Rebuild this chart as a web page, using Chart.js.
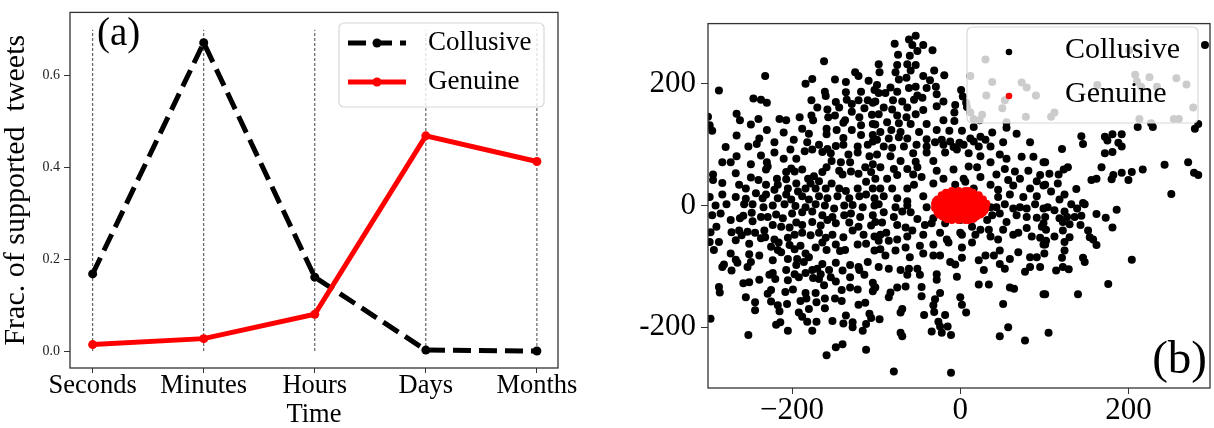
<!DOCTYPE html>
<html>
<head>
<meta charset="utf-8">
<script src="https://cdn.jsdelivr.net/npm/chart.js@4"></script>
<style>
    html, body { margin: 0; padding: 0; background: #fff; }
    body { width: 1214px; height: 428px; position: relative; overflow: hidden; }
    #chartA { position: absolute; left: 0; top: 0; width: 600px; height: 428px; }
    #chartB { position: absolute; left: 600px; top: 0; width: 614px; height: 428px; }
</style>
</head>
<body>
<canvas id="chartA" width="600" height="428"></canvas>
<canvas id="chartB" width="614" height="428"></canvas>
<script>
// Панель (a): доля поддержанных твитов по времени
const timeLabels = ['Seconds', 'Minutes', 'Hours', 'Days', 'Months'];
const collusiveFrac = [0.168, 0.672, 0.161, 0.002, 0.0];
const genuineFrac = [0.014, 0.027, 0.080, 0.469, 0.413];
const fracTicks = [0, 0.2, 0.4, 0.6];
const guideTop = 0.7;

// Панель (b): проекция пользователей (x, y)
const tsneTicks = [-200, 0, 200];
const collusivePts = [
    [-162,237],[-232,213],[-125,219],[-121,213],[-184,200],[-176,208],[-149,207],[-136,203],[-109,205],[-287,189],
    [-161,187],[-160,180],[-246,176],[-237,174],[-230,169],[-177,173],[-136,186],[-118,187],[-102,190],[-148,170],
    [-135,174],[-129,167],[-121,173],[-110,173],[-104,169],[-300,146],[-298,132],[-295,123],[-266,151],[-262,140],
    [-249,133],[-240,142],[-215,142],[-207,140],[-191,145],[-177,148],[-175,140],[-170,161],[-158,158],[-157,145],
    [-149,148],[-144,161],[-129,154],[-114,160],[-105,149],[-139,136],[-137,140],[-120,145],[-118,132],[-104,134],
    [-266,115],[-230,124],[-210,120],[-188,126],[-180,118],[-159,126],[-159,117],[-147,124],[-129,124],[-118,116],
    [-104,116],[-279,96],[-252,97],[-242,101],[-239,110],[-221,104],[-198,108],[-182,104],[-168,100],[-158,93],
    [-148,98],[-139,100],[-139,111],[-122,97],[-110,100],[-104,105],[-283,71],[-273,71],[-266,81],[-249,68],
    [-237,82],[-230,71],[-221,87],[-210,77],[-202,92],[-195,77],[-185,89],[-176,92],[-164,88],[-154,86],
    [-153,73],[-142,71],[-133,84],[-131,71],[-122,87],[-108,81],[-104,68],[-294,51],[-294,42],[-283,37],
    [-267,53],[-249,46],[-240,42],[-231,59],[-229,64],[-218,44],[-207,55],[-201,61],[-197,56],[-188,59],
    [-181,44],[-174,48],[-164,55],[-159,63],[-144,57],[-140,51],[-130,56],[-121,52],[-113,63],[-106,55],
    [-263,34],[-255,28],[-243,20],[-231,34],[-231,18],[-221,26],[-217,34],[-207,43],[-205,28],[-195,36],
    [-193,23],[-184,28],[-178,36],[-172,28],[-168,40],[-160,28],[-153,36],[-144,28],[-136,24],[-122,28],
    [-112,39],[-104,28],[-298,14],[-283,18],[-267,14],[-255,11],[-235,12],[-217,12],[-207,18],[-201,10],
    [-188,15],[-180,10],[-168,15],[-158,12],[-146,15],[-132,12],[-120,15],[-112,18],[-102,12],
    [-53,279],[-61,273],[-78,266],[-57,264],[-44,264],[-51,254],[-33,255],[-74,248],[-60,246],[-97,232],
    [-75,231],[-63,232],[-53,231],[-59,222],[-31,222],[-96,219],[-77,219],[-44,213],[-19,214],[-73,207],
    [-64,210],[-36,206],[-99,198],[-83,194],[-61,193],[-53,195],[-40,193],[-29,195],[1,190],[-97,185],
    [-89,185],[-75,187],[-51,181],[-45,177],[-28,183],[3,179],[-101,171],[-80,173],[-69,171],[-55,174],
    [-20,171],[-6,165],[7,169],[-91,161],[-81,158],[-63,161],[-44,157],[-28,163],[-97,150],[-75,148],
    [-64,145],[-53,150],[-7,153],[-101,133],[-87,137],[-73,135],[-59,134],[-40,134],[-20,140],[-7,139],
    [-95,121],[-82,124],[-71,121],[-49,121],[-28,124],[-13,123],[2,123],[-99,108],[-85,110],[-73,112],
    [-63,110],[-40,109],[-22,108],[-12,105],[-1,103],[12,110],[24,113],[38,120],[30,108],[67,118],
    [-91,97],[-81,95],[-67,97],[-52,100],[-40,97],[-30,104],[-20,100],[-8,96],[4,100],[16,105],
    [22,97],[36,97],[51,104],[83,104],[-99,84],[-83,81],[-71,73],[-56,86],[-53,72],[-40,87],
    [-32,73],[-18,87],[-4,92],[10,86],[24,81],[47,84],[55,77],[73,80],[87,80],[99,71],
    [-95,63],[-79,60],[-63,60],[-51,63],[-28,57],[-8,59],[10,64],[20,63],[36,71],[53,60],
    [65,56],[81,57],[95,50],[-101,44],[-87,44],[-75,50],[-56,51],[-46,47],[-20,44],[4,44],
    [24,47],[43,51],[57,42],[71,44],[91,40],[-95,28],[-81,28],[-63,28],[-55,34],[-32,36],
    [-6,34],[6,39],[16,28],[36,34],[45,26],[63,33],[83,28],[99,33],[-91,15],[-75,12],
    [-63,7],[-44,15],[45,14],[59,18],[75,14],[91,15],
    [30,240],[12,213],[38,203],[73,202],[79,194],[31,181],[53,173],[90,181],[50,160],[8,162],
    [12,153],[26,149],[16,142],[23,140],[55,137],[78,146],[55,128],[16,129],
    [291,264],[283,134],[144,114],[146,101],[172,113],[181,117],[192,117],[175,107],[188,103],[192,97],
    [172,86],[181,88],[121,93],[101,71],[123,59],[128,63],[117,51],[106,52],[101,34],[116,36],
    [138,27],[108,23],[124,18],[118,10],[146,4],[162,44],[168,63],[156,42],[180,43],[182,50],
    [192,54],[200,42],[204,55],[217,59],[243,67],[271,71],[278,54],[283,50],[251,19],
    [201,255],[163,198],[208,215],[210,204],[215,195],[225,211],[234,195],[257,209],[269,199],[277,161],
    [112,153],[108,146],[213,142],[227,135],[211,129],[229,129],[254,142],[260,142],[279,126],
    [-291,0],[-278,2],[-257,2],[-247,2],[-234,-3],[-223,0],[-209,2],[-196,-1],[-184,-3],[-172,2],
    [-161,0],[-150,-5],[-138,0],[-128,1],[-116,-3],[-102,0],
    [-295,-16],[-285,-13],[-273,-24],[-262,-21],[-258,-17],[-248,-12],[-247,-26],[-237,-19],[-229,-19],[-219,-15],
    [-211,-21],[-200,-13],[-188,-11],[-176,-10],[-164,-16],[-152,-19],[-138,-16],[-130,-13],[-119,-19],[-104,-16],
    [-297,-44],[-290,-35],[-272,-44],[-263,-41],[-260,-49],[-253,-43],[-244,-45],[-233,-41],[-223,-32],[-213,-35],
    [-203,-36],[-195,-28],[-188,-32],[-176,-27],[-166,-33],[-158,-24],[-148,-29],[-132,-28],[-121,-35],[-106,-33],
    [-298,-60],[-287,-60],[-293,-73],[-267,-57],[-251,-63],[-237,-54],[-232,-52],[-221,-56],[-216,-61],[-205,-53],
    [-197,-48],[-188,-45],[-178,-49],[-168,-45],[-160,-53],[-152,-48],[-139,-52],[-128,-41],[-115,-48],[-102,-51],
    [-273,-79],[-251,-80],[-239,-82],[-225,-68],[-217,-73],[-203,-65],[-197,-72],[-190,-66],[-184,-79],[-172,-69],
    [-164,-61],[-159,-73],[-148,-64],[-143,-75],[-137,-73],[-122,-64],[-112,-63],[-102,-74],
    [-283,-101],[-281,-97],[-272,-107],[-267,-89],[-265,-94],[-253,-101],[-249,-93],[-223,-90],[-213,-77],[-207,-106],
    [-205,-88],[-195,-98],[-194,-88],[-186,-93],[-180,-85],[-176,-106],[-170,-104],[-164,-96],[-156,-106],[-148,-94],
    [-140,-107],[-131,-98],[-121,-101],[-110,-93],
    [-258,-128],[-251,-126],[-239,-122],[-227,-114],[-223,-111],[-220,-121],[-205,-123],[-197,-113],[-192,-118],[-184,-111],
    [-175,-119],[-168,-121],[-166,-113],[-162,-131],[-154,-118],[-148,-125],[-131,-118],[-120,-106],[-114,-114],[-104,-127],
    [-287,-134],[-286,-143],[-255,-151],[-244,-159],[-244,-172],[-229,-145],[-225,-139],[-225,-158],[-217,-164],[-215,-174],
    [-208,-142],[-206,-162],[-199,-138],[-190,-157],[-184,-144],[-183,-153],[-180,-170],[-172,-144],[-171,-159],[-161,-153],
    [-161,-169],[-149,-153],[-141,-157],[-141,-139],[-131,-135],[-122,-138],[-121,-163],[-113,-160],[-102,-134],[-104,-141],
    [-297,-186],[-219,-196],[-214,-192],[-205,-206],[-192,-176],[-188,-183],[-182,-191],[-171,-191],[-176,-206],[-152,-190],
    [-139,-194],[-136,-181],[-128,-192],[-128,-200],[-112,-195],[-108,-178],[-106,-185],[-116,-206],
    [-252,-213],[-159,-246],[-148,-233],[-140,-228],[-112,-237],
    [-97,2],[-77,-3],[-63,0],[-40,-3],[36,-3],[43,-3],[53,2],[63,-5],[71,-3],[79,-5],
    [89,2],[99,-5],[-91,-11],[-69,-10],[-59,-11],[-101,-27],[-93,-28],[-79,-19],[-75,-32],[-65,-36],
    [-51,-22],[-42,-32],[-32,-21],[-34,-29],[-18,-29],[0,-24],[14,-35],[16,-21],[32,-24],[38,-16],
    [47,-13],[55,-27],[67,-16],[79,-19],[91,-20],[97,-35],[-97,-58],[-95,-48],[-88,-45],[-85,-58],
    [-75,-56],[-63,-51],[-57,-41],[-44,-48],[-32,-64],[-24,-45],[-16,-56],[-14,-61],[0,-45],[2,-48],
    [2,-69],[14,-61],[18,-48],[24,-40],[34,-40],[36,-51],[45,-56],[51,-40],[63,-48],[69,-45],
    [79,-37],[85,-51],[95,-53],[99,-64],[-95,-72],[-89,-82],[-77,-74],[-65,-69],[-60,-85],[-48,-66],
    [-44,-79],[-32,-82],[-24,-82],[-12,-93],[-6,-97],[2,-86],[22,-90],[30,-82],[40,-82],[47,-74],
    [59,-88],[69,-77],[83,-85],[91,-85],[47,-96],[53,-104],[83,-101],[95,-101],[77,-109],[-97,-101],
    [-85,-104],[-71,-106],[-63,-114],[-61,-104],[-51,-104],[-48,-114],[-28,-113],[-28,-122],[-4,-117],[28,-106],
    [22,-130],[34,-130],[59,-135],[64,-137],[-101,-135],[-83,-143],[-85,-151],[-75,-135],[-65,-133],[-46,-134],
    [-46,-149],[-24,-144],[-30,-154],[-32,-164],[0,-151],[2,-163],[7,-176],[51,-162],[99,-146],[-69,-170],
    [-71,-176],[-96,-187],[-43,-180],[-18,-180],[-31,-175],[-26,-191],[-24,-199],[-15,-199],[-34,-207],[-22,-209],
    [-11,-213],[-71,-209],[-69,-215],[57,-200],[47,-215],[77,-222],[-79,-273],[-11,-275],
    [104,-3],[112,-8],[124,-10],[132,2],[139,-5],[148,2],[101,-19],[118,-21],[122,-27],[127,-19],
    [136,-19],[144,-17],[143,-32],[130,-31],[162,-14],[173,-20],[186,-7],[181,-36],[99,-29],[102,-40],
    [112,-51],[122,-41],[124,-60],[130,-52],[152,-41],[154,-52],[158,-56],[162,-65],[101,-64],[102,-58],
    [100,-79],[124,-74],[121,-86],[146,-86],[148,-93],[114,-107],[122,-101],[129,-105],[204,-89],[176,-129],
    [101,-146],[140,-146],[105,-209]
];
const genuinePts = [
    [-10,24],[-2,24],[6,24],[10,24],
    [-22,17],[-14,17],[-6,17],[2,17],[10,17],[18,17],[22,17],
    [-27,10],[-19,10],[-11,10],[-3,10],[5,10],[13,10],[21,10],[27,10],
    [-30,3],[-22,3],[-14,3],[-6,3],[2,3],[10,3],[18,3],[26,3],[31,3],
    [-30,-4],[-22,-4],[-14,-4],[-6,-4],[2,-4],[10,-4],[18,-4],[26,-4],[30,-4],
    [-27,-11],[-19,-11],[-11,-11],[-3,-11],[5,-11],[13,-11],[21,-11],[27,-11],
    [-21,-18],[-13,-18],[-5,-18],[3,-18],[11,-18],[19,-18],
    [-10,-24],[-2,-24],[6,-24],[10,-24],
    [-17,21],[15,21],[-25,-15],[24,-15],[-16,-22],[15,-22],[-29,7],[29,-8]
];

const serif = "'Liberation Serif', 'Times New Roman', serif";
Chart.defaults.font.family = serif;
Chart.defaults.color = '#000';

// Рамка вокруг области графика
const frame = {
    id: 'frame',
    afterDatasetsDraw(chart) {
        const { ctx, chartArea: a } = chart;
        ctx.save();
        ctx.strokeStyle = '#333';
        ctx.lineWidth = 1.3;
        ctx.strokeRect(a.left, a.top, a.right - a.left, a.bottom - a.top);
        ctx.restore();
    }
};

// Подпись панели: (a) / (b)
const panelTag = {
    id: 'panelTag',
    afterDraw(chart, args, o) {
        const ctx = chart.ctx;
        ctx.save();
        ctx.font = o.size + 'px ' + serif;
        ctx.fillStyle = '#000';
        ctx.textAlign = o.align;
        ctx.textBaseline = 'alphabetic';
        ctx.fillText(o.text, o.x, o.y);
        ctx.restore();
    }
};

// Легенда в рамке в стиле matplotlib
const boxLegend = {
    id: 'boxLegend',
    afterDraw(chart, args, o) {
        const ctx = chart.ctx;
        ctx.save();
        ctx.beginPath();
        ctx.roundRect(o.x, o.y, o.w, o.h, 5);
        ctx.fillStyle = 'rgba(255,255,255,0.8)';
        ctx.fill();
        ctx.strokeStyle = '#d8d8d8';
        ctx.lineWidth = 1.2;
        ctx.stroke();

        chart.data.datasets.filter(ds => ds.inLegend).forEach((ds, i) => {
            const cy = o.y + o.first + i * o.step;
            if (o.lineLen) {
                ctx.beginPath();
                ctx.setLineDash(ds.borderDash || []);
                ctx.strokeStyle = ds.borderColor;
                ctx.lineWidth = ds.borderWidth;
                ctx.moveTo(o.markX - o.lineLen / 2, cy);
                ctx.lineTo(o.markX + o.lineLen / 2, cy);
                ctx.stroke();
                ctx.setLineDash([]);
            }
            ctx.beginPath();
            ctx.arc(o.markX, cy, o.markR, 0, Math.PI * 2);
            ctx.fillStyle = ds.backgroundColor;
            ctx.fill();

            ctx.fillStyle = '#000';
            ctx.font = o.fontSize + 'px ' + serif;
            ctx.textAlign = 'left';
            ctx.textBaseline = 'middle';
            ctx.fillText(ds.label, o.textX, cy + o.textDy);
        });
        ctx.restore();
    }
};

const toXY = arr => arr.map((v, i) => ({ x: i, y: v }));
const toPts = arr => arr.map(([x, y]) => ({ x, y }));

// Вертикальные пунктирные направляющие
const guideSets = timeLabels.map((t, i) => ({
    label: 'guide ' + t,
    data: [{ x: i, y: 0 }, { x: i, y: guideTop }],
    borderColor: '#444',
    borderWidth: 1,
    borderDash: [3, 2],
    pointRadius: 0,
    order: 3
}));

new Chart(document.getElementById('chartA'), {
    type: 'line',
    data: {
        datasets: [
            {
                label: 'Collusive',
                data: toXY(collusiveFrac),
                borderColor: '#000',
                backgroundColor: '#000',
                borderWidth: 5,
                borderDash: [18, 8],
                pointRadius: 4.5,
                pointBorderWidth: 0,
                order: 2,
                inLegend: true
            },
            {
                label: 'Genuine',
                data: toXY(genuineFrac),
                borderColor: '#ff0000',
                backgroundColor: '#ff0000',
                borderWidth: 5,
                pointRadius: 4.5,
                pointBorderWidth: 0,
                order: 1,
                inLegend: true
            },
            ...guideSets
        ]
    },
    options: {
        responsive: false,
        animation: false,
        devicePixelRatio: 1,
        layout: { padding: { left: 0, right: 42, top: 8, bottom: 0 } },
        scales: {
            x: {
                type: 'linear',
                min: -0.204,
                max: 4.19,
                afterBuildTicks: s => { s.ticks = timeLabels.map((t, i) => ({ value: i })); },
                afterFit: s => { s.height = 60; },
                ticks: {
                    callback: v => timeLabels[v],
                    font: { size: 26.5, lineHeight: 1 },
                    color: '#000',
                    padding: 0,
                    maxRotation: 0,
                    autoSkip: false
                },
                grid: { drawOnChartArea: false, tickLength: 5, tickColor: '#333' },
                border: { display: false },
                title: { display: true, text: 'Time', font: { size: 26.5, lineHeight: 1 }, color: '#000', padding: 0 }
            },
            y: {
                type: 'linear',
                min: -0.037,
                max: 0.738,
                afterBuildTicks: s => { s.ticks = fracTicks.map(v => ({ value: v })); },
                afterFit: s => { s.width = 70; },
                ticks: {
                    callback: v => v.toFixed(1),
                    font: { size: 14 },
                    color: '#222',
                    padding: 4
                },
                grid: { drawOnChartArea: false, tickLength: 6, tickColor: '#333' },
                border: { display: false },
                title: {
                    display: true,
                    text: 'Frac. of supported  tweets',
                    font: { size: 30, lineHeight: 1.1 },
                    color: '#000',
                    padding: { top: 0, bottom: 0 }
                }
            }
        },
        plugins: {
            legend: { display: false },
            tooltip: { enabled: false },
            boxLegend: {
                x: 339, y: 23, w: 205, h: 84,
                markX: 377, lineLen: 58, markR: 4.5,
                first: 20, step: 39,
                textX: 428, fontSize: 27, textDy: 0
            },
            panelTag: { text: '(a)', x: 97, y: 45, size: 39, align: 'left' }
        }
    },
    plugins: [frame, boxLegend, panelTag]
});

new Chart(document.getElementById('chartB'), {
    type: 'scatter',
    data: {
        datasets: [
            {
                label: 'Collusive',
                data: toPts(collusivePts),
                backgroundColor: '#000',
                pointRadius: 4,
                pointBorderWidth: 0,
                borderWidth: 0,
                clip: 0,
                order: 2,
                inLegend: true
            },
            {
                label: 'Genuine',
                data: toPts(genuinePts),
                backgroundColor: '#ff0000',
                pointRadius: 4,
                pointBorderWidth: 0,
                borderWidth: 0,
                clip: 0,
                order: 1,
                inLegend: true
            }
        ]
    },
    options: {
        responsive: false,
        animation: false,
        devicePixelRatio: 1,
        layout: { padding: { left: 0, right: 4, top: 11, bottom: 0 } },
        scales: {
            x: {
                type: 'linear',
                min: -300,
                max: 297,
                afterBuildTicks: s => { s.ticks = tsneTicks.map(v => ({ value: v })); },
                afterFit: s => { s.height = 40; },
                ticks: {
                    callback: v => (v < 0 ? '\u2212' + Math.abs(v) : String(v)),
                    font: { size: 31, lineHeight: 1 },
                    color: '#000',
                    padding: 1,
                    maxRotation: 0,
                    autoSkip: false
                },
                grid: { drawOnChartArea: false, tickLength: 6, tickColor: '#333' },
                border: { display: false }
            },
            y: {
                type: 'linear',
                min: -300,
                max: 299,
                afterBuildTicks: s => { s.ticks = tsneTicks.map(v => ({ value: v })); },
                afterFit: s => { s.width = 108; },
                ticks: {
                    callback: v => String(v),
                    font: { size: 31 },
                    color: '#000',
                    padding: 5
                },
                grid: { drawOnChartArea: false, tickLength: 7, tickColor: '#333' },
                border: { display: false }
            }
        },
        plugins: {
            legend: { display: false },
            tooltip: { enabled: false },
            boxLegend: {
                x: 367, y: 27, w: 231, h: 96,
                markX: 409, lineLen: 0, markR: 3.3,
                first: 25, step: 44,
                textX: 465, fontSize: 30, textDy: -2
            },
            panelTag: { text: '(b)', x: 607, y: 373, size: 47, align: 'right' }
        }
    },
    plugins: [frame, boxLegend, panelTag]
});
</script>
</body>
</html>
